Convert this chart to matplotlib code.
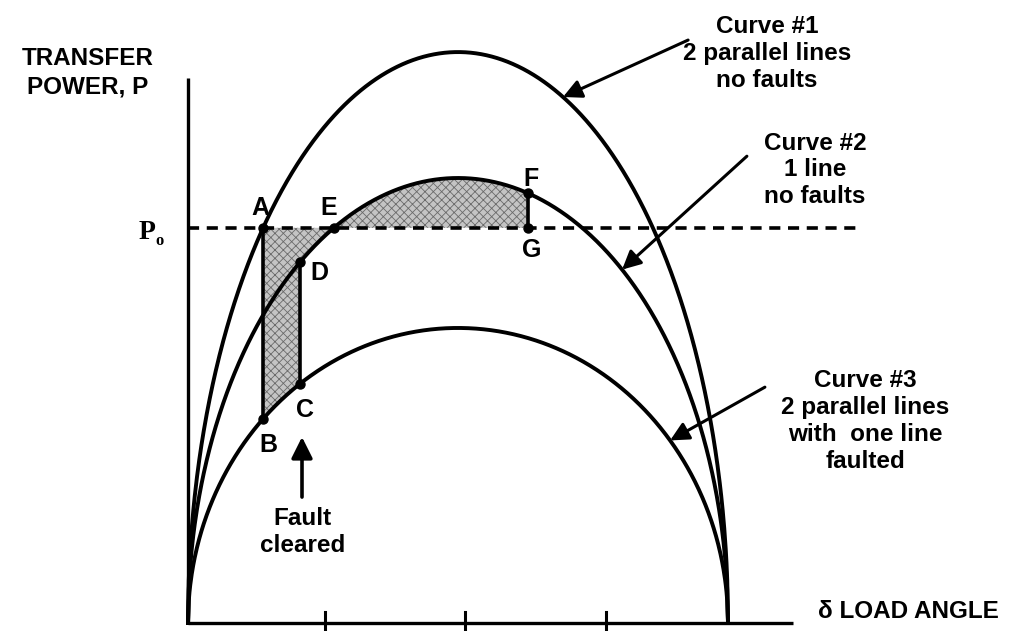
import numpy as np
import matplotlib.pyplot as plt

plt.rcParams['font.family'] = ['Liberation Sans', 'DejaVu Sans']
plt.rcParams['font.weight'] = 'bold'
plt.rcParams['lines.scale_dashes'] = False
plt.rcParams['hatch.linewidth'] = 0.6

# peak transfer power of each curve (curve #2 peak = 1.0)
curve_labels = ['Curve #1\n2 parallel lines\nno faults',
                'Curve #2\n1 line\nno faults',
                'Curve #3\n2 parallel lines\nwith  one line\nfaulted']
curve_peaks = [1.283, 1.0, 0.663]
p0 = 0.888              # pre-fault transfer power
delta_fault = 25.0      # A-B, fault applied (deg)
delta_clear = 37.3      # C-D, fault cleared (deg)
delta_max = 113.3       # F-G, max swing (deg)
delta_end = 180.0
tick_deg = [45.7, 92.3, 139.3]
# where each callout arrow touches its curve (deg)
arrow_deg = [125.0, 144.7, 160.7]


def curve(peak, d):
    # the drawing uses rounded (elliptic) power-angle curves
    return peak * np.sqrt(np.clip(1 - ((d - delta_end / 2) / (delta_end / 2)) ** 2, 0, None))


fig = plt.figure(figsize=(10.26, 6.31), dpi=100)
ax = fig.add_axes([0, 0, 1, 1])
ax.set_xlim(-188 / 3, 838 / 3)
ax.set_ylim(-8 / 445, 623 / 445)
ax.axis('off')

# axes drawn by hand like the sketch
ax.plot([0, 0], [0, 1.225], color='black', lw=2.4, solid_capstyle='butt')
ax.plot([0, 201.7], [0, 0], color='black', lw=2.4, solid_capstyle='butt')
for t in tick_deg:
    ax.plot([t, t], [-0.018, 0.025], color='black', lw=2.2)

d = np.linspace(0, delta_end, 721)
for peak in curve_peaks:
    ax.plot(d, curve(peak, d), color='black', lw=2.8)

# P0 line
ax.plot([0, 225], [p0, p0], color='black', lw=2.6, linestyle=(0, (8, 5.5)))

# E: curve #2 crosses P0
delta_e = delta_end / 2 * (1 - np.sqrt(1 - (p0 / curve_peaks[1]) ** 2))

# shaded areas
shade = dict(facecolor='#c4c4c4', hatch='xxxx', edgecolor='#6a6a6a', linewidth=0)
d1 = np.linspace(delta_fault, delta_clear, 60)
ax.fill_between(d1, curve(curve_peaks[2], d1), p0, **shade)
d2 = np.linspace(delta_clear, delta_e, 60)
ax.fill_between(d2, curve(curve_peaks[1], d2), p0, **shade)
d3 = np.linspace(delta_e, delta_max, 200)
ax.fill_between(d3, p0, curve(curve_peaks[1], d3), **shade)

# vertical lines A-B, D-C, F-G
pB = curve(curve_peaks[2], delta_fault)
pC = curve(curve_peaks[2], delta_clear)
pD = curve(curve_peaks[1], delta_clear)
pF = curve(curve_peaks[1], delta_max)
ax.plot([delta_fault, delta_fault], [pB, p0], color='black', lw=2.6)
ax.plot([delta_clear, delta_clear], [pC, pD], color='black', lw=2.6)
ax.plot([delta_max, delta_max], [p0, pF], color='black', lw=2.6)

points = {
    'A': (delta_fault, p0, (-2, 14)),
    'B': (delta_fault, pB, (4, -19)),
    'C': (delta_clear, pC, (4, -19)),
    'D': (delta_clear, pD, (14, -8)),
    'E': (delta_e, p0, (-4, 14)),
    'F': (delta_max, pF, (2, 10)),
    'G': (delta_max, p0, (3, -16)),
}
for name, (x, y, off) in points.items():
    ax.plot(x, y, 'o', color='black', ms=6.5)
    ax.annotate(name, (x, y), xytext=off, textcoords='offset points',
                ha='center', va='center', fontsize=18)

# curve callouts
label_pos = [(193, 1.28), (209, 1.018), (225.7, 0.454)]
arrow_tail = [(166.7, 1.31), (186.3, 1.049), (192.3, 0.530)]
for lab, pos, tail, peak, ad in zip(curve_labels, label_pos, arrow_tail, curve_peaks, arrow_deg):
    ax.text(pos[0], pos[1], lab, ha='center', va='center', fontsize=17.5, linespacing=1.22)
    ax.annotate('', xy=(ad, curve(peak, ad)), xytext=tail,
                arrowprops=dict(arrowstyle='-|>', color='black', lw=2.2,
                                mutation_scale=28, shrinkA=0, shrinkB=0))

# fault cleared arrow
ax.annotate('', xy=(38, 0.418), xytext=(38, 0.283),
            arrowprops=dict(arrowstyle='-|>', color='black', lw=2.6,
                            mutation_scale=32, shrinkA=0, shrinkB=0))
ax.text(38.3, 0.204, 'Fault\ncleared', ha='center', va='center', fontsize=17.5, linespacing=1.25)

# axis labels
ax.text(-33.3, 1.237, 'TRANSFER\nPOWER, P', ha='center', va='center', fontsize=17.5, linespacing=1.3)
ax.text(210, 0.025, 'δ LOAD ANGLE', ha='left', va='center', fontsize=17.5)
ax.text(-11, p0 - 0.01, 'P', ha='right', va='center', fontsize=20,
        family=['Liberation Serif', 'DejaVu Serif'], fontweight='bold')
ax.text(-10.8, p0 - 0.03, 'o', ha='left', va='center', fontsize=12,
        family=['Liberation Serif', 'DejaVu Serif'], fontweight='bold')

fig.savefig('out.png', dpi=100)
